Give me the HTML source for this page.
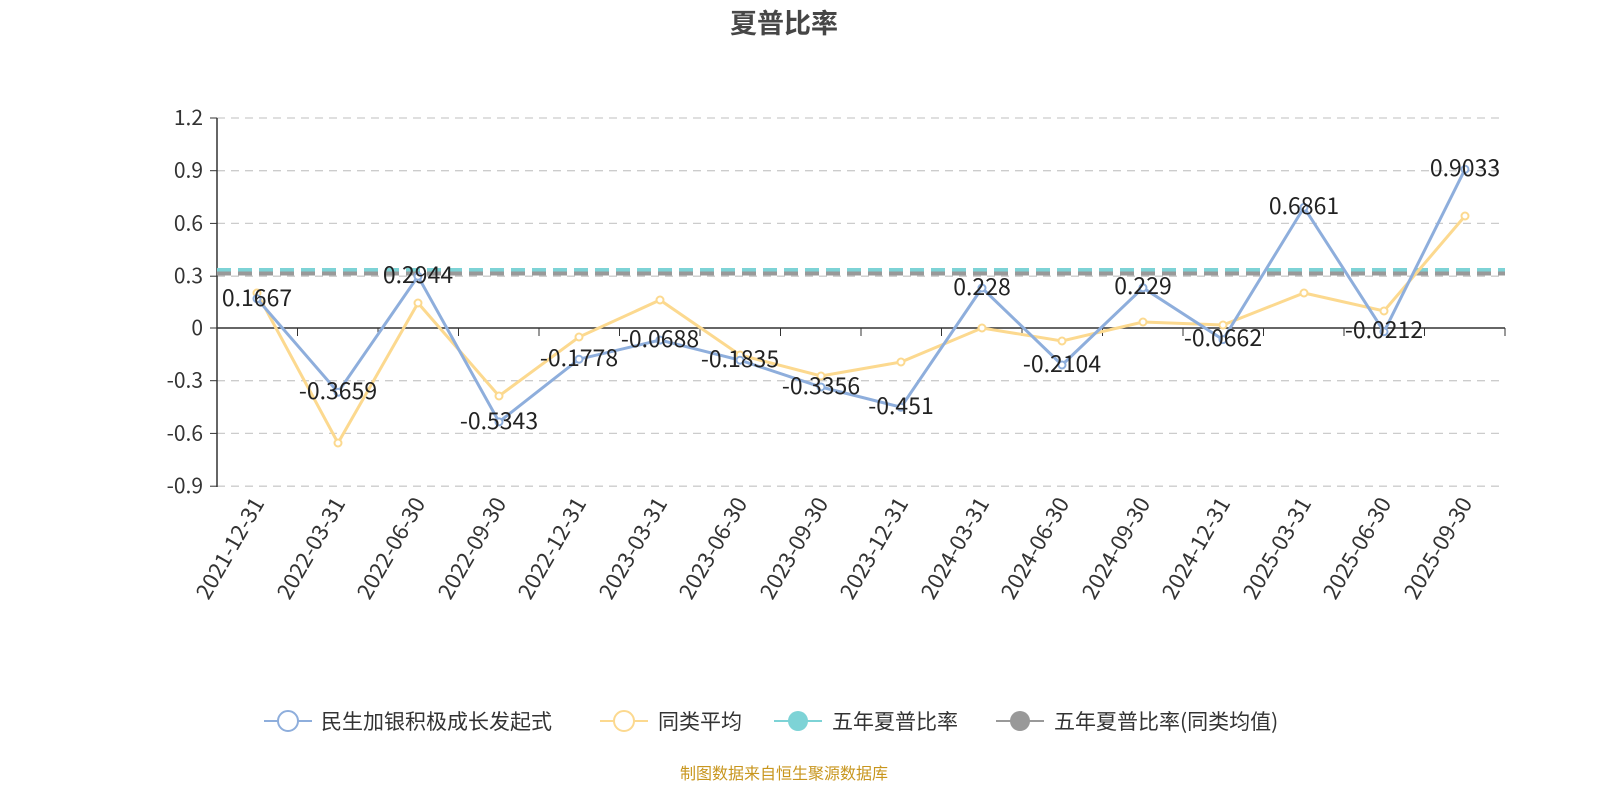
<!DOCTYPE html>
<html><head><meta charset="utf-8"><style>
html,body{margin:0;padding:0;background:#fff;}
svg text{font-family:"Noto Sans CJK SC","Liberation Sans",sans-serif;}
</style></head><body>
<svg width="1600" height="800" xmlns="http://www.w3.org/2000/svg">
<text x="784" y="33" text-anchor="middle" font-size="27" font-weight="bold" fill="#464646">夏普比率</text>
<g stroke="#ccc" stroke-dasharray="8,6" stroke-width="1.3">
<line x1="217" x2="1505" y1="118" y2="118"/><line x1="217" x2="1505" y1="170.7" y2="170.7"/>
<line x1="217" x2="1505" y1="223.4" y2="223.4"/><line x1="217" x2="1505" y1="276.2" y2="276.2"/>
<line x1="217" x2="1505" y1="380.7" y2="380.7"/><line x1="217" x2="1505" y1="433.4" y2="433.4"/>
<line x1="217" x2="1505" y1="486.2" y2="486.2"/>
</g>
<g font-size="21" fill="#333" text-anchor="end">
<text x="203" y="125">1.2</text><text x="203" y="177.7">0.9</text><text x="203" y="230.4">0.6</text>
<text x="203" y="283.2">0.3</text><text x="203" y="335">0</text><text x="203" y="387.7">-0.3</text>
<text x="203" y="440.4">-0.6</text><text x="203" y="493.2">-0.9</text>
</g>
<line x1="217" y1="118" x2="217" y2="487" stroke="#333" stroke-width="1.5"/>
<line x1="210" y1="118" x2="217" y2="118" stroke="#333"/><line x1="210" y1="170.7" x2="217" y2="170.7" stroke="#333"/>
<line x1="210" y1="223.4" x2="217" y2="223.4" stroke="#333"/><line x1="210" y1="276.2" x2="217" y2="276.2" stroke="#333"/>
<line x1="210" y1="328" x2="217" y2="328" stroke="#333"/><line x1="210" y1="380.7" x2="217" y2="380.7" stroke="#333"/>
<line x1="210" y1="433.4" x2="217" y2="433.4" stroke="#333"/><line x1="210" y1="486.2" x2="217" y2="486.2" stroke="#333"/>
<line x1="217" y1="328" x2="1505" y2="328" stroke="#333" stroke-width="1.5"/>
<g stroke="#333">
<line x1="217" x2="217" y1="328" y2="336"/><line x1="297.5" x2="297.5" y1="328" y2="336"/><line x1="378" x2="378" y1="328" y2="336"/><line x1="458.5" x2="458.5" y1="328" y2="336"/><line x1="539" x2="539" y1="328" y2="336"/><line x1="619.5" x2="619.5" y1="328" y2="336"/><line x1="700" x2="700" y1="328" y2="336"/><line x1="780.5" x2="780.5" y1="328" y2="336"/><line x1="861" x2="861" y1="328" y2="336"/><line x1="941.5" x2="941.5" y1="328" y2="336"/><line x1="1022" x2="1022" y1="328" y2="336"/><line x1="1102.5" x2="1102.5" y1="328" y2="336"/><line x1="1183" x2="1183" y1="328" y2="336"/><line x1="1263.5" x2="1263.5" y1="328" y2="336"/><line x1="1344" x2="1344" y1="328" y2="336"/><line x1="1424.5" x2="1424.5" y1="328" y2="336"/><line x1="1505" x2="1505" y1="328" y2="336"/>
</g>
<line x1="217" x2="1505" y1="270" y2="270" stroke="#7dd3d6" stroke-width="4" stroke-dasharray="14,7"/>
<line x1="217" x2="1505" y1="273.5" y2="273.5" stroke="#999" stroke-width="4" stroke-dasharray="14,7"/>
<polyline fill="none" stroke="#fcd98f" stroke-width="3" points="257,293 338,443 418,303 499,396 579,337 660,300 740,355 821,376 901,362 982,328 1062,341 1143,322 1223,325 1304,293 1384,311 1465,216"/>
<g fill="#fff" stroke="#fcd98f" stroke-width="2">
<circle cx="257" cy="293" r="3.5"/><circle cx="338" cy="443" r="3.5"/><circle cx="418" cy="303" r="3.5"/><circle cx="499" cy="396" r="3.5"/><circle cx="579" cy="337" r="3.5"/><circle cx="660" cy="300" r="3.5"/><circle cx="740" cy="355" r="3.5"/><circle cx="821" cy="376" r="3.5"/><circle cx="901" cy="362" r="3.5"/><circle cx="982" cy="328" r="3.5"/><circle cx="1062" cy="341" r="3.5"/><circle cx="1143" cy="322" r="3.5"/><circle cx="1223" cy="325" r="3.5"/><circle cx="1304" cy="293" r="3.5"/><circle cx="1384" cy="311" r="3.5"/><circle cx="1465" cy="216" r="3.5"/>
</g>
<polyline fill="none" stroke="#8eaedc" stroke-width="3" points="257,298.7 338,392.3 418,276.3 499,421.9 579,359.2 660,340.1 740,360.2 821,387 901,407.2 982,288 1062,365 1143,287.8 1223,339.6 1304,207.4 1384,331.7 1465,169.3"/>
<g fill="#fff" stroke="#8eaedc" stroke-width="2">
<circle cx="257" cy="298.7" r="3.5"/><circle cx="338" cy="392.3" r="3.5"/><circle cx="418" cy="276.3" r="3.5"/><circle cx="499" cy="421.9" r="3.5"/><circle cx="579" cy="359.2" r="3.5"/><circle cx="660" cy="340.1" r="3.5"/><circle cx="740" cy="360.2" r="3.5"/><circle cx="821" cy="387" r="3.5"/><circle cx="901" cy="407.2" r="3.5"/><circle cx="982" cy="288" r="3.5"/><circle cx="1062" cy="365" r="3.5"/><circle cx="1143" cy="287.8" r="3.5"/><circle cx="1223" cy="339.6" r="3.5"/><circle cx="1304" cy="207.4" r="3.5"/><circle cx="1384" cy="331.7" r="3.5"/><circle cx="1465" cy="169.3" r="3.5"/>
</g>
<g font-size="23" fill="#222" text-anchor="middle">
<text x="257" y="306">0.1667</text><text x="338" y="399">-0.3659</text><text x="418" y="283">0.2944</text><text x="499" y="429">-0.5343</text><text x="579" y="366">-0.1778</text><text x="660" y="347">-0.0688</text><text x="740" y="367">-0.1835</text><text x="821" y="394">-0.3356</text><text x="901" y="414">-0.451</text><text x="982" y="295">0.228</text><text x="1062" y="372">-0.2104</text><text x="1143" y="294">0.229</text><text x="1223" y="346">-0.0662</text><text x="1304" y="214">0.6861</text><text x="1384" y="338">-0.0212</text><text x="1465" y="176">0.9033</text>
</g>
<g font-size="22" fill="#333" text-anchor="end">
<text transform="translate(265,503) rotate(-60)">2021-12-31</text>
<text transform="translate(346,503) rotate(-60)">2022-03-31</text>
<text transform="translate(426,503) rotate(-60)">2022-06-30</text>
<text transform="translate(507,503) rotate(-60)">2022-09-30</text>
<text transform="translate(587,503) rotate(-60)">2022-12-31</text>
<text transform="translate(668,503) rotate(-60)">2023-03-31</text>
<text transform="translate(748,503) rotate(-60)">2023-06-30</text>
<text transform="translate(829,503) rotate(-60)">2023-09-30</text>
<text transform="translate(909,503) rotate(-60)">2023-12-31</text>
<text transform="translate(990,503) rotate(-60)">2024-03-31</text>
<text transform="translate(1070,503) rotate(-60)">2024-06-30</text>
<text transform="translate(1151,503) rotate(-60)">2024-09-30</text>
<text transform="translate(1231,503) rotate(-60)">2024-12-31</text>
<text transform="translate(1312,503) rotate(-60)">2025-03-31</text>
<text transform="translate(1392,503) rotate(-60)">2025-06-30</text>
<text transform="translate(1473,503) rotate(-60)">2025-09-30</text>
</g>
<g font-size="21" fill="#333">
<line x1="264" x2="312" y1="721" y2="721" stroke="#8eaedc" stroke-width="2"/><circle cx="288" cy="721" r="10" fill="#fff" stroke="#8eaedc" stroke-width="2"/>
<text x="321" y="729">民生加银积极成长发起式</text>
<line x1="600" x2="648" y1="721" y2="721" stroke="#fcd98f" stroke-width="2"/><circle cx="624" cy="721" r="10" fill="#fff" stroke="#fcd98f" stroke-width="2"/>
<text x="658" y="729">同类平均</text>
<line x1="774" x2="822" y1="721" y2="721" stroke="#7dd3d6" stroke-width="2"/><circle cx="798" cy="721" r="10" fill="#7dd3d6"/>
<text x="832" y="729">五年夏普比率</text>
<line x1="996" x2="1044" y1="721" y2="721" stroke="#999" stroke-width="2"/><circle cx="1020" cy="721" r="10" fill="#999"/>
<text x="1054" y="729">五年夏普比率(同类均值)</text>
</g>
<text x="784" y="779" text-anchor="middle" font-size="16" fill="#c8961e">制图数据来自恒生聚源数据库</text>
</svg>
</body></html>
